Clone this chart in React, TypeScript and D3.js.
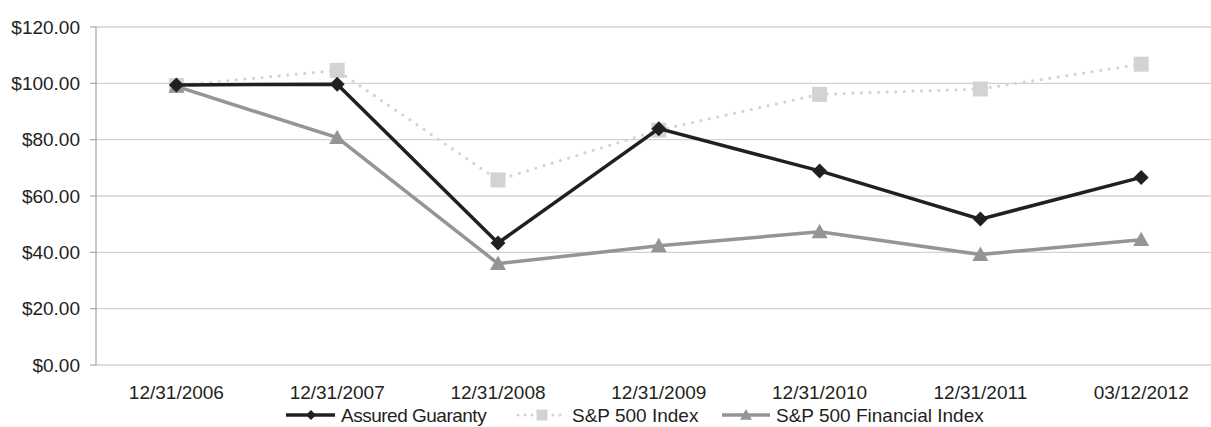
import React from 'react';
import * as d3 from 'd3';

const categories = ['12/31/2006', '12/31/2007', '12/31/2008', '12/31/2009', '12/31/2010', '12/31/2011', '03/12/2012'];
const assuredGuaranty = [99.4, 99.7, 43.3, 83.9, 68.9, 51.8, 66.6];
const sp500 = [99.2, 104.6, 65.7, 83.4, 96.1, 98.0, 106.8];
const sp500Financial = [98.9, 80.7, 36.0, 42.3, 47.3, 39.2, 44.5];
const yTicks = [0, 20, 40, 60, 80, 100, 120];

const W = 1211;
const H = 427;
const margin = { left: 96, top: 27, bottom: 62 };
const bandW = 160.8;

const textColor = '#231f20';
const gridColor = '#d1d3d4';
const blackLine = '#231f20';
const lightGray = '#d1d3d4';
const midGray = '#939598';
const font = '"Liberation Sans", Arial, sans-serif';
const fs = 19;

const x = d3.scaleBand<string>()
  .domain(categories)
  .range([margin.left, margin.left + bandW * categories.length])
  .padding(0);
const y = d3.scaleLinear().domain([0, 120]).range([H - margin.bottom, margin.top]);
const cx = (c: string) => (x(c) || 0) + x.bandwidth() / 2;

const line = d3.line<number>()
  .x((_, i) => cx(categories[i]))
  .y(d => y(d));

const Diamond = ({ px, py, s }: { px: number; py: number; s: number }) => (
  <path d={`M${px},${py - s}L${px + s},${py}L${px},${py + s}L${px - s},${py}Z`} fill={blackLine} />
);
const Square = ({ px, py, s }: { px: number; py: number; s: number }) => (
  <rect x={px - s} y={py - s} width={s * 2} height={s * 2} fill={lightGray} />
);
const Triangle = ({ px, py, s }: { px: number; py: number; s: number }) => (
  <path d={`M${px},${py - s}L${px + s},${py + s * 0.8}L${px - s},${py + s * 0.8}Z`} fill={midGray} />
);

const App: React.FC = () => {
  const x0 = margin.left;
  const x1 = W;
  const legendY = 415;
  return (
    <svg width={W} height={H} style={{ position: 'absolute', left: 0, top: 0, background: '#fff' }}
      fontFamily={font}>
      {/* grid */}
      {yTicks.map(t => (
        <g key={t}>
          <line x1={x0} x2={x1} y1={y(t)} y2={y(t)} stroke={gridColor} strokeWidth={1.3} />
          <line x1={x0 - 6} x2={x0} y1={y(t)} y2={y(t)} stroke="#a7a9ac" strokeWidth={1.2} />
          <text x={x0 - 16} y={y(t)} dy="0.35em" textAnchor="end" fontSize={fs} fill={textColor}>
            {`$${t.toFixed(2)}`}
          </text>
        </g>
      ))}
      <line x1={x0} x2={x0} y1={y(120)} y2={y(0)} stroke="#a7a9ac" strokeWidth={1.3} />

      {categories.map(c => (
        <text key={c} x={cx(c)} y={392} dy="0.35em" textAnchor="middle" fontSize={fs} fill={textColor}>{c}</text>
      ))}

      {/* S&P 500 Index */}
      <path d={line(sp500) || ''} fill="none" stroke={lightGray} strokeWidth={3.2}
        strokeDasharray="0 8.6" strokeLinecap="round" />
      {sp500.map((v, i) => <Square key={i} px={cx(categories[i])} py={y(v)} s={7.5} />)}

      {/* S&P 500 Financial Index */}
      <path d={line(sp500Financial) || ''} fill="none" stroke={midGray} strokeWidth={3.5} />
      {sp500Financial.map((v, i) => <Triangle key={i} px={cx(categories[i])} py={y(v)} s={8} />)}

      {/* Assured Guaranty */}
      <path d={line(assuredGuaranty) || ''} fill="none" stroke={blackLine} strokeWidth={3.5} />
      {assuredGuaranty.map((v, i) => <Diamond key={i} px={cx(categories[i])} py={y(v)} s={7.5} />)}

      {/* legend */}
      <g>
        <line x1={286} x2={335} y1={legendY} y2={legendY} stroke={blackLine} strokeWidth={3.5} />
        <Diamond px={311} py={legendY} s={5} />
        <text x={341} y={legendY} dy="0.36em" fontSize={fs} letterSpacing={-0.5} fill={textColor}>Assured Guaranty</text>

        <line x1={518} x2={565} y1={legendY} y2={legendY} stroke={lightGray} strokeWidth={3}
          strokeDasharray="0 7" strokeLinecap="round" />
        <Square px={542} py={legendY} s={5.5} />
        <text x={572} y={legendY} dy="0.36em" fontSize={fs} fill={textColor}>S&amp;P 500 Index</text>

        <line x1={722} x2={770} y1={legendY} y2={legendY} stroke={midGray} strokeWidth={3.5} />
        <Triangle px={746} py={legendY} s={6} />
        <text x={776} y={legendY} dy="0.36em" fontSize={fs} fill={textColor}>S&amp;P 500 Financial Index</text>
      </g>
    </svg>
  );
};

export default App;
